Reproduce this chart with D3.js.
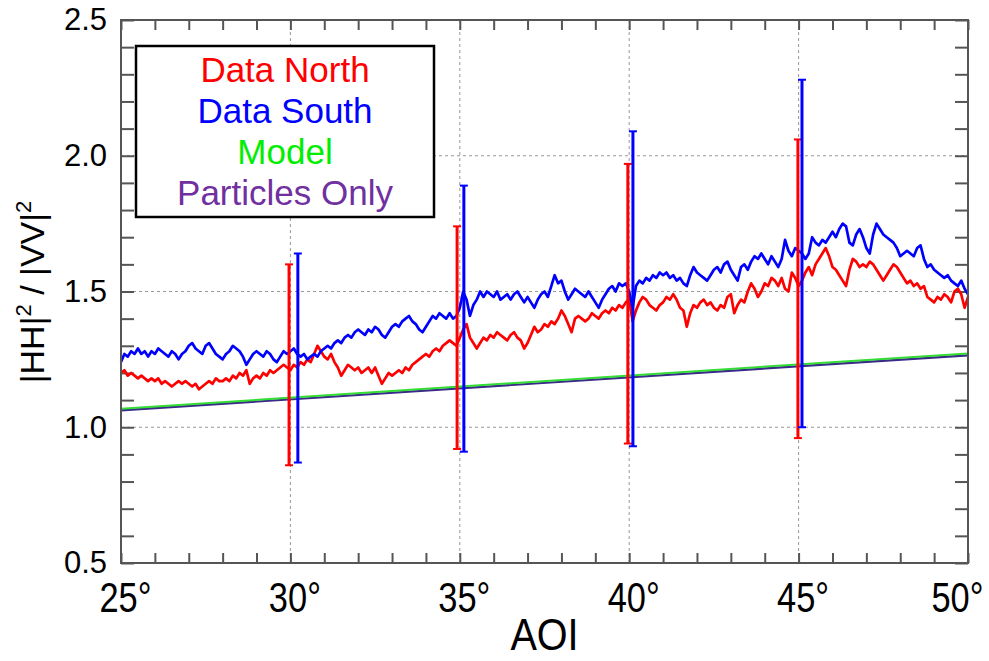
<!DOCTYPE html>
<html>
<head>
<meta charset="utf-8">
<script src="https://cdn.jsdelivr.net/npm/d3@7"></script>
<style>
  body { margin: 0; background: #fff; }
  svg { display: block; }
  .arial { font-family: "Liberation Sans", Arial, sans-serif; }
</style>
</head>
<body>
<svg id="chart"></svg>
<script>
// AOI sample grid, 25.0 .. 50.0 in 0.1 deg steps
const aoi = d3.range(0, 251).map(i => 25 + i / 10);

// Data North (one row per degree)
const north = [
  1.20, 1.21, 1.19, 1.20, 1.19, 1.18, 1.19, 1.18, 1.17, 1.18,
  1.17, 1.18, 1.16, 1.17, 1.16, 1.15, 1.16, 1.17, 1.16, 1.17,
  1.16, 1.15, 1.16, 1.14, 1.15, 1.16, 1.17, 1.16, 1.18, 1.17,
  1.17, 1.18, 1.17, 1.19, 1.18, 1.20, 1.19, 1.21, 1.16, 1.18,
  1.19, 1.18, 1.20, 1.19, 1.21, 1.20, 1.21, 1.22, 1.23, 1.22,
  1.21, 1.23, 1.22, 1.24, 1.23, 1.25, 1.24, 1.27, 1.30, 1.28,
  1.26, 1.25, 1.27, 1.24, 1.22, 1.19, 1.21, 1.23, 1.22, 1.21,
  1.22, 1.20, 1.21, 1.22, 1.20, 1.22, 1.19, 1.16, 1.18, 1.20,
  1.19, 1.20, 1.21, 1.20, 1.22, 1.21, 1.23, 1.24, 1.25, 1.26,
  1.27, 1.26, 1.28, 1.29, 1.28, 1.30, 1.31, 1.32, 1.31, 1.30,
  1.33, 1.36, 1.38, 1.33, 1.31, 1.29, 1.31, 1.33, 1.32, 1.34,
  1.33, 1.35, 1.34, 1.33, 1.32, 1.34, 1.35, 1.33, 1.32, 1.29,
  1.31, 1.34, 1.37, 1.35, 1.36, 1.38, 1.37, 1.39, 1.38, 1.40,
  1.43, 1.41, 1.38, 1.35, 1.40, 1.41, 1.40, 1.39, 1.40, 1.42,
  1.41, 1.40, 1.42, 1.43, 1.42, 1.44, 1.43, 1.45, 1.44, 1.46,
  1.47, 1.39, 1.43, 1.46, 1.48, 1.47, 1.45, 1.44, 1.43, 1.45,
  1.46, 1.48, 1.47, 1.49, 1.47, 1.44, 1.43, 1.37, 1.42, 1.45,
  1.44, 1.46, 1.47, 1.45, 1.46, 1.44, 1.43, 1.45, 1.44, 1.48,
  1.49, 1.42, 1.45, 1.47, 1.46, 1.50, 1.53, 1.51, 1.48, 1.50,
  1.53, 1.52, 1.55, 1.54, 1.52, 1.55, 1.51, 1.50, 1.57, 1.55,
  1.52, 1.54, 1.57, 1.59, 1.56, 1.60, 1.62, 1.64, 1.66, 1.63,
  1.59, 1.58, 1.56, 1.54, 1.52, 1.58, 1.62, 1.61, 1.59, 1.60,
  1.59, 1.61, 1.60, 1.58, 1.56, 1.54, 1.56, 1.58, 1.60, 1.59,
  1.57, 1.55, 1.53, 1.54, 1.52, 1.53, 1.51, 1.52, 1.48, 1.47,
  1.46, 1.48, 1.47, 1.49, 1.48, 1.46, 1.50, 1.51, 1.49, 1.44,
  1.48
];

// Data South
const south = [
  1.24, 1.27, 1.26, 1.28, 1.27, 1.29, 1.27, 1.28, 1.26, 1.28,
  1.27, 1.29, 1.28, 1.27, 1.26, 1.28, 1.27, 1.25, 1.27, 1.28,
  1.30, 1.31, 1.29, 1.28, 1.27, 1.30, 1.31, 1.29, 1.27, 1.26,
  1.25, 1.27, 1.28, 1.30, 1.29, 1.28, 1.26, 1.23, 1.25, 1.27,
  1.28, 1.27, 1.26, 1.28, 1.27, 1.25, 1.24, 1.26, 1.28, 1.27,
  1.28, 1.29, 1.27, 1.26, 1.27, 1.25, 1.26, 1.27, 1.26, 1.28,
  1.29, 1.30, 1.29, 1.31, 1.32, 1.31, 1.33, 1.34, 1.33, 1.35,
  1.36, 1.35, 1.34, 1.36, 1.35, 1.37, 1.36, 1.34, 1.33, 1.35,
  1.37, 1.38, 1.37, 1.39, 1.40, 1.41, 1.39, 1.38, 1.36, 1.35,
  1.37, 1.39, 1.41, 1.40, 1.42, 1.41, 1.40, 1.42, 1.40, 1.41,
  1.44, 1.50, 1.47, 1.41, 1.45, 1.47, 1.50, 1.48, 1.50, 1.49,
  1.48, 1.50, 1.47, 1.48, 1.49, 1.47, 1.49, 1.50, 1.48, 1.46,
  1.48, 1.46, 1.44, 1.47, 1.49, 1.50, 1.48, 1.52, 1.56, 1.53,
  1.54, 1.50, 1.47, 1.49, 1.51, 1.50, 1.49, 1.48, 1.50, 1.48,
  1.46, 1.44, 1.47, 1.49, 1.51, 1.52, 1.50, 1.53, 1.52, 1.53,
  1.50, 1.44, 1.52, 1.54, 1.53, 1.55, 1.54, 1.56, 1.55, 1.57,
  1.56, 1.57, 1.55, 1.56, 1.54, 1.55, 1.53, 1.52, 1.56, 1.59,
  1.57, 1.56, 1.55, 1.54, 1.56, 1.58, 1.59, 1.57, 1.60, 1.61,
  1.58, 1.56, 1.54, 1.59, 1.60, 1.58, 1.61, 1.63, 1.62, 1.64,
  1.62, 1.60, 1.63, 1.61, 1.59, 1.62, 1.69, 1.65, 1.63, 1.66,
  1.65, 1.64, 1.62, 1.64, 1.70, 1.68, 1.67, 1.69, 1.68, 1.70,
  1.72, 1.70, 1.73, 1.75, 1.74, 1.68, 1.67, 1.71, 1.73, 1.70,
  1.66, 1.64, 1.71, 1.75, 1.73, 1.71, 1.70, 1.69, 1.68, 1.66,
  1.63, 1.64, 1.65, 1.64, 1.63, 1.66, 1.67, 1.62, 1.59, 1.60,
  1.58, 1.57, 1.56, 1.55, 1.56, 1.54, 1.53, 1.52, 1.54, 1.51,
  1.49
];

// straight model lines (end points)
const modelAoi = [25, 50];
const model = [1.068, 1.272];
const particles = [1.062, 1.265];

// error bars
const northBarAoi = [29.96, 34.92, 39.96, 44.98];
const northLo = [0.86, 0.92, 0.94, 0.96];
const northHi = [1.60, 1.74, 1.97, 2.06];
const southBarAoi = [30.22, 35.12, 40.11, 45.10];
const southLo = [0.87, 0.91, 0.93, 1.00];
const southHi = [1.64, 1.89, 2.09, 2.28];

const xTicks = [25, 30, 35, 40, 45, 50];
const yTicks = [0.5, 1.0, 1.5, 2.0, 2.5];
const gridX = [30, 35, 40, 45];
const gridY = [1.0, 1.5, 2.0];

const legendItems = ["Data North", "Data South", "Model", "Particles Only"];
const legendColors = ["#ff0000", "#0000ff", "#00ee00", "#7030a0"];

const W = 989, H = 661;
const margin = {top: 20, right: 21, bottom: 98, left: 121};
const width = W - margin.left - margin.right,
      height = H - margin.top - margin.bottom;

const svg = d3.select("#chart").attr("width", W).attr("height", H);
const g = svg.append("g").attr("transform", "translate(" + margin.left + "," + margin.top + ")");

const x = d3.scaleLinear().domain([25, 50]).range([0, width]);
const y = d3.scaleLinear().domain([0.5, 2.5]).range([height, 0]);

// grid
g.selectAll(".gx").data(gridX).join("line")
    .attr("x1", d => x(d)).attr("x2", d => x(d))
    .attr("y1", 0).attr("y2", height)
    .attr("stroke", "#999").attr("stroke-width", 1).attr("stroke-dasharray", "3,3");
g.selectAll(".gy").data(gridY).join("line")
    .attr("y1", d => y(d)).attr("y2", d => y(d))
    .attr("x1", 0).attr("x2", width)
    .attr("stroke", "#999").attr("stroke-width", 1).attr("stroke-dasharray", "3,3");

// inward minor ticks on all four sides
const minorX = d3.range(25, 51, 1), minorY = d3.range(5, 26).map(v => v / 10);
function tickStyle(sel) {
    sel.select(".domain").remove();
    sel.selectAll("line").attr("stroke", "#555").attr("stroke-width", 2);
    sel.selectAll("text").remove();
}
g.append("g").attr("transform", "translate(0," + height + ")")
    .call(d3.axisBottom(x).tickValues(minorX).tickSize(-10)).call(tickStyle);
g.append("g")
    .call(d3.axisTop(x).tickValues(minorX).tickSize(-10)).call(tickStyle);
g.append("g")
    .call(d3.axisLeft(y).tickValues(minorY).tickSize(-13)).call(tickStyle);
g.append("g").attr("transform", "translate(" + width + ",0)")
    .call(d3.axisRight(y).tickValues(minorY).tickSize(-13)).call(tickStyle);

// tick labels (x labels in a condensed look, last one pulled in from the edge)
const xl = g.append("g").attr("transform", "translate(0," + height + ")")
    .call(d3.axisBottom(x).tickValues(xTicks).tickSize(0).tickPadding(19).tickFormat(d => d + "°"));
xl.select(".domain").remove();
xl.selectAll("text").attr("class", "arial").attr("font-size", 42).attr("fill", "#000")
    .attr("transform", d => (d === 50 ? "translate(-11,0) " : "translate(4,0) ") + "scale(0.82,1)");

const yl = g.append("g")
    .call(d3.axisLeft(y).tickValues(yTicks).tickSize(0).tickPadding(14).tickFormat(d3.format(".1f")));
yl.select(".domain").remove();
yl.selectAll("text").attr("class", "arial").attr("font-size", 31).attr("fill", "#000");

// lines
const line = d3.line().x(d => x(d[0])).y(d => y(d[1]));

g.append("path").datum(d3.zip(modelAoi, particles))
    .attr("fill", "none").attr("stroke", "#3a2a8a").attr("stroke-width", 2.2).attr("d", line);
g.append("path").datum(d3.zip(modelAoi, model))
    .attr("fill", "none").attr("stroke", "#33dd33").attr("stroke-width", 2).attr("d", line);

g.append("path").datum(d3.zip(aoi, north))
    .attr("fill", "none").attr("stroke", "#ff0000").attr("stroke-width", 2.7)
    .attr("stroke-linejoin", "round").attr("d", line);
g.append("path").datum(d3.zip(aoi, south))
    .attr("fill", "none").attr("stroke", "#0000ff").attr("stroke-width", 2.7)
    .attr("stroke-linejoin", "round").attr("d", line);

// error bars
function errorBars(xs, lo, hi, color) {
    const bars = g.append("g").attr("stroke", color).attr("stroke-width", 3);
    const data = d3.zip(xs, lo, hi);
    bars.selectAll(".v").data(data).join("line")
        .attr("x1", d => x(d[0])).attr("x2", d => x(d[0]))
        .attr("y1", d => y(d[1])).attr("y2", d => y(d[2]));
    bars.selectAll(".lo").data(data).join("line")
        .attr("x1", d => x(d[0]) - 4).attr("x2", d => x(d[0]) + 4)
        .attr("y1", d => y(d[1])).attr("y2", d => y(d[1])).attr("stroke-width", 2);
    bars.selectAll(".hi").data(data).join("line")
        .attr("x1", d => x(d[0]) - 4).attr("x2", d => x(d[0]) + 4)
        .attr("y1", d => y(d[2])).attr("y2", d => y(d[2])).attr("stroke-width", 2);
}
errorBars(northBarAoi, northLo, northHi, "#ff0000");
errorBars(southBarAoi, southLo, southHi, "#0000ff");

// frame
g.append("rect").attr("width", width).attr("height", height)
    .attr("fill", "none").attr("stroke", "#555").attr("stroke-width", 2);

// legend
const lg = svg.append("g").attr("transform", "translate(136,46)");
lg.append("rect").attr("width", 298).attr("height", 171)
    .attr("fill", "#fff").attr("stroke", "#000").attr("stroke-width", 2.5);
lg.selectAll("text").data(legendItems).join("text")
    .attr("class", "arial")
    .attr("x", 149).attr("y", (d, i) => 36 + i * 41)
    .attr("text-anchor", "middle").attr("font-size", 35)
    .attr("fill", (d, i) => legendColors[i])
    .text(d => d);

// axis titles
svg.append("text").attr("class", "arial")
    .attr("transform", "translate(" + (margin.left + width / 2) + ",650) scale(0.88,1)")
    .attr("text-anchor", "middle").attr("font-size", 45).text("AOI");

const yt = svg.append("text").attr("class", "arial")
    .attr("transform", "translate(44,292) rotate(-90)")
    .attr("text-anchor", "middle").attr("font-size", 34);
yt.append("tspan").text("|HH|");
yt.append("tspan").attr("font-size", 22).attr("dy", -13).text("2");
yt.append("tspan").attr("dy", 13).text(" / |VV|");
yt.append("tspan").attr("font-size", 22).attr("dy", -13).text("2");
</script>
</body>
</html>
